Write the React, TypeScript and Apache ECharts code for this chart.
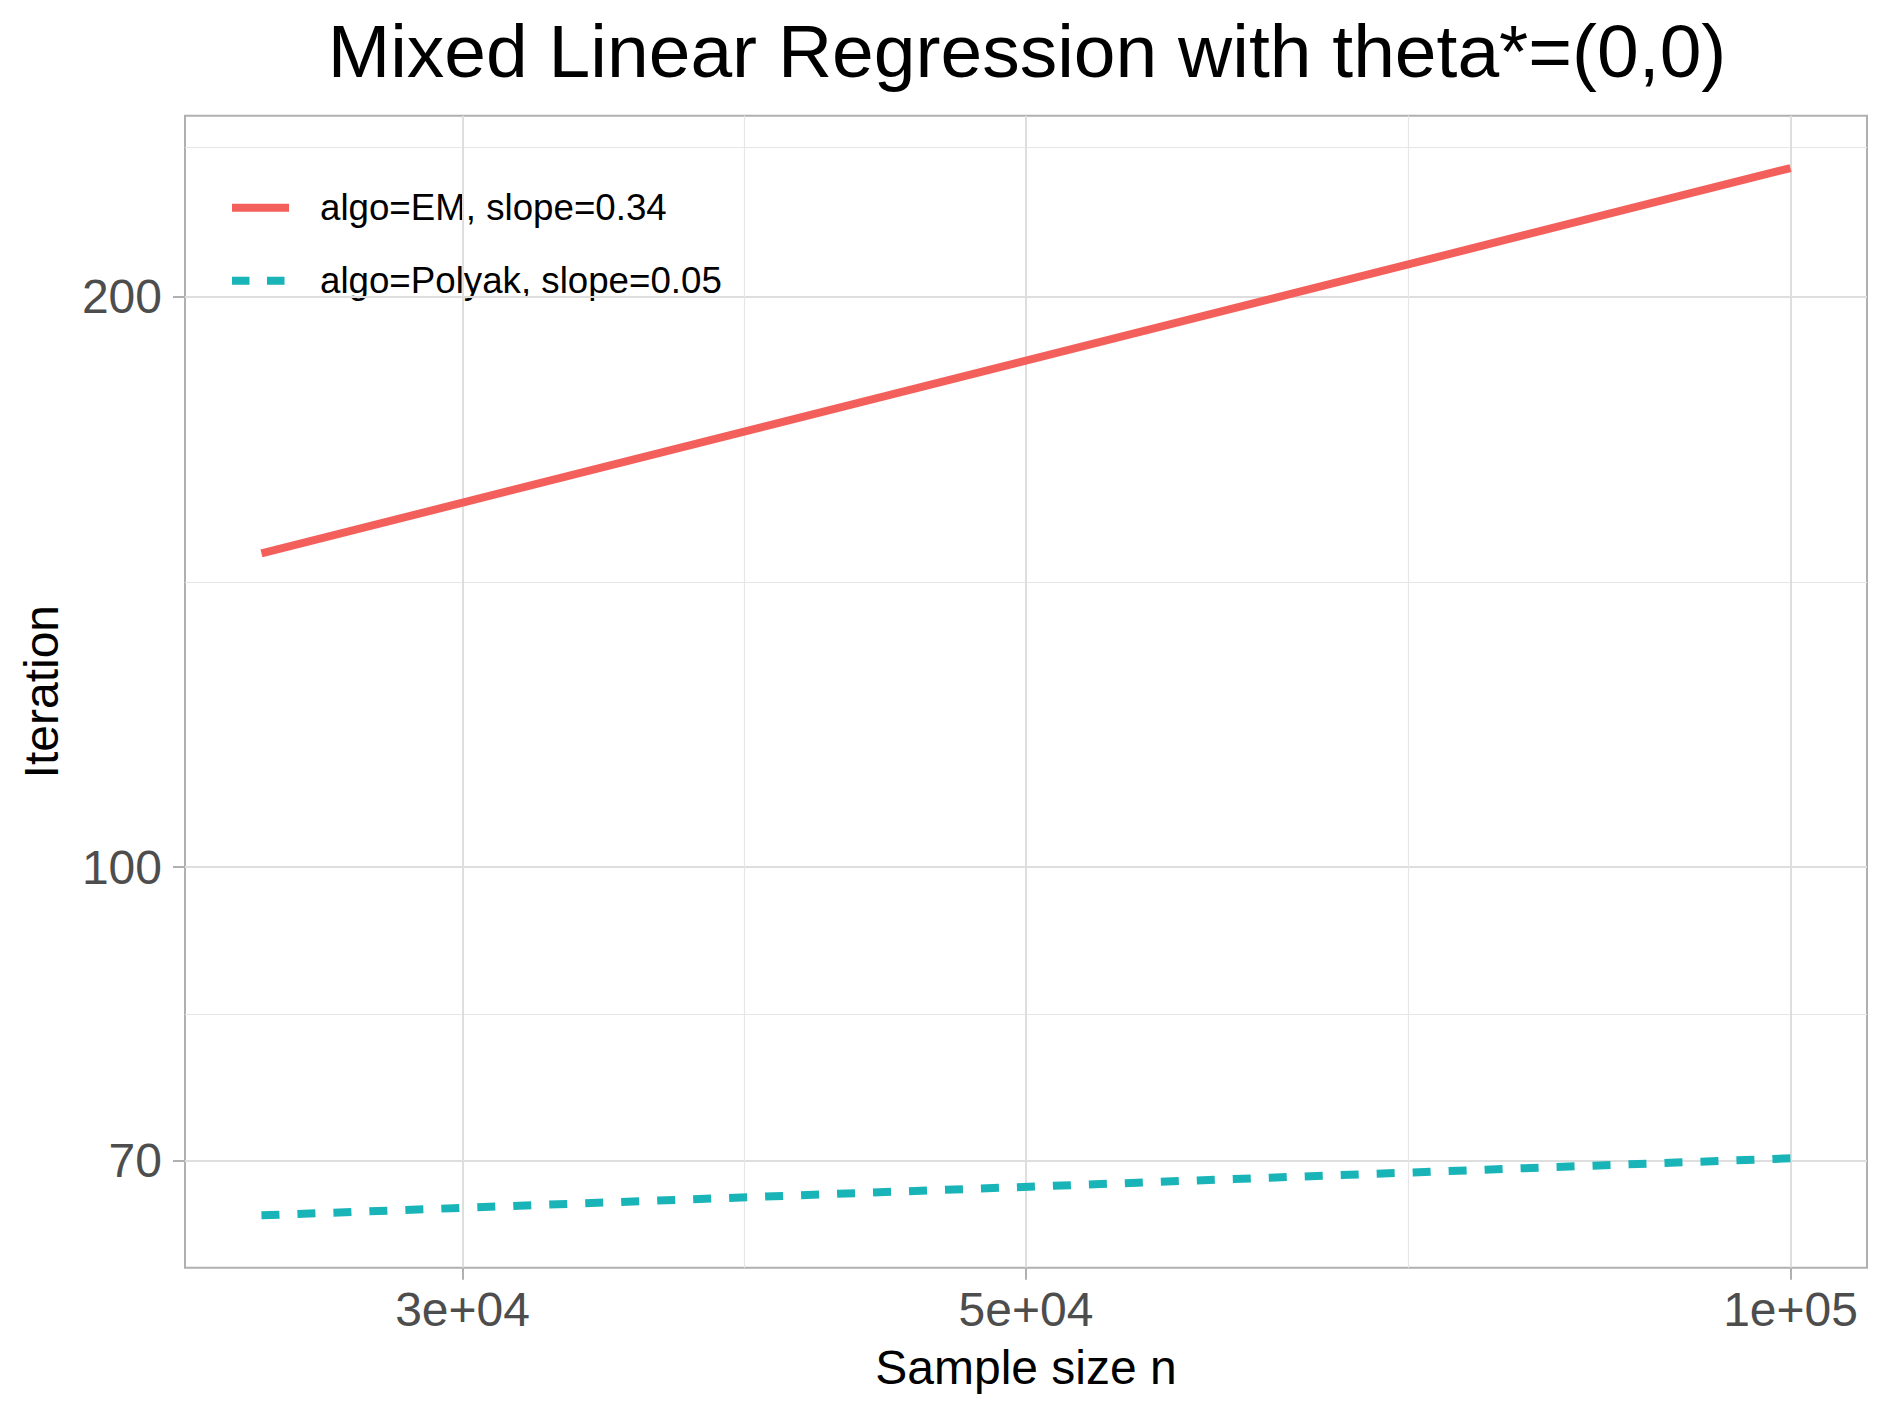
import React, { useEffect, useRef } from "react";
import * as echarts from "echarts";

// ---- data ----
const sampleSizes = [25000, 100000];
const emIterations = [146.4, 233.8];
const polyakIterations = [65.5, 70.2];

const seriesNames = ["algo=EM, slope=0.34", "algo=Polyak, slope=0.05"];
const seriesColors = ["#F3605B", "#18B4B8"];

const xTickValues = [30000, 50000, 100000];
const xTickLabels = ["3e+04", "5e+04", "1e+05"];
const xMinorValues = [38730, 70711];

const yTickValues = [70, 100, 200];
const yTickLabels = ["70", "100", "200"];
const yMinorValues = [83.67, 141.42, 239.9];

const FONT = "'Liberation Sans', Arial, Helvetica, sans-serif";

const lg = (v: number) => Math.log10(v);

function expandRange(vals: number[]) {
  const ls = vals.map(lg);
  const lo = Math.min(...ls);
  const hi = Math.max(...ls);
  const pad = (hi - lo) * 0.05;
  return [lo - pad, hi + pad];
}

function labelFor(values: number[], labels: string[]) {
  return (v: number) => {
    for (let i = 0; i < values.length; i++) {
      if (Math.abs(lg(values[i]) - v) < 1e-6) return labels[i];
    }
    return "";
  };
}

export default function App() {
  const ref = useRef<HTMLDivElement>(null);

  useEffect(() => {
    if (!ref.current) return;
    const chart = echarts.init(ref.current, null, { renderer: "svg" });

    const [xMin, xMax] = expandRange(sampleSizes);
    const [yMin, yMax] = expandRange([...emIterations, ...polyakIterations]);

    const gridLeft = 185;
    const gridTop = 115.7;
    const gridRight = 1867;
    const gridBottom = 1267.7;

    const majorGrid = { show: true, lineStyle: { color: "#dedede", width: 2 } };
    const minorGrid = { show: true, lineStyle: { color: "#e6e6e6", width: 1.2 } };

    const option: any = {
      animation: false,
      backgroundColor: "#ffffff",
      grid: {
        left: gridLeft,
        top: gridTop,
        width: gridRight - gridLeft,
        height: gridBottom - gridTop,
        show: true,
        borderColor: "#b0b0b0",
        borderWidth: 2,
        backgroundColor: "transparent",
      },
      xAxis: [
        {
          type: "value",
          min: xMin,
          max: xMax,
          axisLine: { show: false },
          axisTick: {
            show: true,
            length: 12,
            customValues: xTickValues.map(lg),
            lineStyle: { color: "#b0b0b0", width: 2 },
          },
          axisLabel: {
            show: true,
            customValues: xTickValues.map(lg),
            formatter: labelFor(xTickValues, xTickLabels),
            fontFamily: FONT,
            fontSize: 48,
            color: "#4d4d4d",
            margin: 42,
            verticalAlign: "middle",
          },
          splitLine: majorGrid,
        },
        {
          type: "value",
          min: xMin,
          max: xMax,
          gridIndex: 0,
          position: "bottom",
          axisLine: { show: false },
          axisTick: { show: false, customValues: xMinorValues.map(lg) },
          axisLabel: { show: false, customValues: xMinorValues.map(lg) },
          splitLine: minorGrid,
        },
      ],
      yAxis: [
        {
          type: "value",
          min: yMin,
          max: yMax,
          axisLine: { show: false },
          axisTick: {
            show: true,
            length: 12,
            customValues: yTickValues.map(lg),
            lineStyle: { color: "#b0b0b0", width: 2 },
          },
          axisLabel: {
            show: true,
            customValues: yTickValues.map(lg),
            formatter: labelFor(yTickValues, yTickLabels),
            fontFamily: FONT,
            fontSize: 48,
            color: "#4d4d4d",
            margin: 23,
          },
          splitLine: majorGrid,
        },
        {
          type: "value",
          min: yMin,
          max: yMax,
          gridIndex: 0,
          position: "left",
          axisLine: { show: false },
          axisTick: { show: false, customValues: yMinorValues.map(lg) },
          axisLabel: { show: false, customValues: yMinorValues.map(lg) },
          splitLine: minorGrid,
        },
      ],
      series: [
        {
          name: seriesNames[0],
          type: "line",
          xAxisIndex: 0,
          yAxisIndex: 0,
          symbol: "none",
          z: 3,
          lineStyle: { color: seriesColors[0], width: 8, cap: "butt" },
          data: sampleSizes.map((n, i) => [lg(n), lg(emIterations[i])]),
        },
        {
          name: seriesNames[1],
          type: "line",
          xAxisIndex: 0,
          yAxisIndex: 0,
          symbol: "none",
          z: 3,
          lineStyle: { color: seriesColors[1], width: 8, type: [18, 18], cap: "butt" },
          data: sampleSizes.map((n, i) => [lg(n), lg(polyakIterations[i])]),
        },
      ],
      graphic: [
        {
          type: "text",
          x: 1027,
          y: 51.3,
          style: {
            text: "Mixed Linear Regression with theta*=(0,0)",
            fontFamily: FONT,
            fontSize: 75,
            fill: "#000000",
            align: "center",
            verticalAlign: "middle",
          },
        },
        {
          type: "text",
          x: 1026,
          y: 1367.4,
          style: {
            text: "Sample size n",
            fontFamily: FONT,
            fontSize: 48,
            fill: "#000000",
            align: "center",
            verticalAlign: "middle",
          },
        },
        {
          type: "text",
          x: 41.4,
          y: 691.7,
          rotation: Math.PI / 2,
          style: {
            text: "Iteration",
            fontFamily: FONT,
            fontSize: 48,
            fill: "#000000",
            align: "center",
            verticalAlign: "middle",
          },
        },
        {
          type: "group",
          z: 1,
          children: [
            {
              type: "rect",
              shape: { x: 201, y: 127, width: 543, height: 212 },
              style: { fill: "#ffffff" },
            },
            {
              type: "line",
              shape: { x1: 232, y1: 207.7, x2: 289, y2: 207.7 },
              style: { stroke: seriesColors[0], lineWidth: 8 },
            },
            {
              type: "line",
              shape: { x1: 232, y1: 280.7, x2: 289, y2: 280.7 },
              style: { stroke: seriesColors[1], lineWidth: 8, lineDash: [17.5, 17.5] },
            },
            {
              type: "text",
              x: 320,
              y: 207.7,
              style: {
                text: seriesNames[0],
                fontFamily: FONT,
                fontSize: 36.7,
                fill: "#000000",
                align: "left",
                verticalAlign: "middle",
              },
            },
            {
              type: "text",
              x: 320,
              y: 280.7,
              style: {
                text: seriesNames[1],
                fontFamily: FONT,
                fontSize: 36.7,
                fill: "#000000",
                align: "left",
                verticalAlign: "middle",
              },
            },
          ],
        },
      ],
    };

    chart.setOption(option);
    return () => chart.dispose();
  }, []);

  return (
    <div
      ref={ref}
      style={{ position: "absolute", left: 0, top: 0, width: 1889, height: 1417 }}
    />
  );
}
